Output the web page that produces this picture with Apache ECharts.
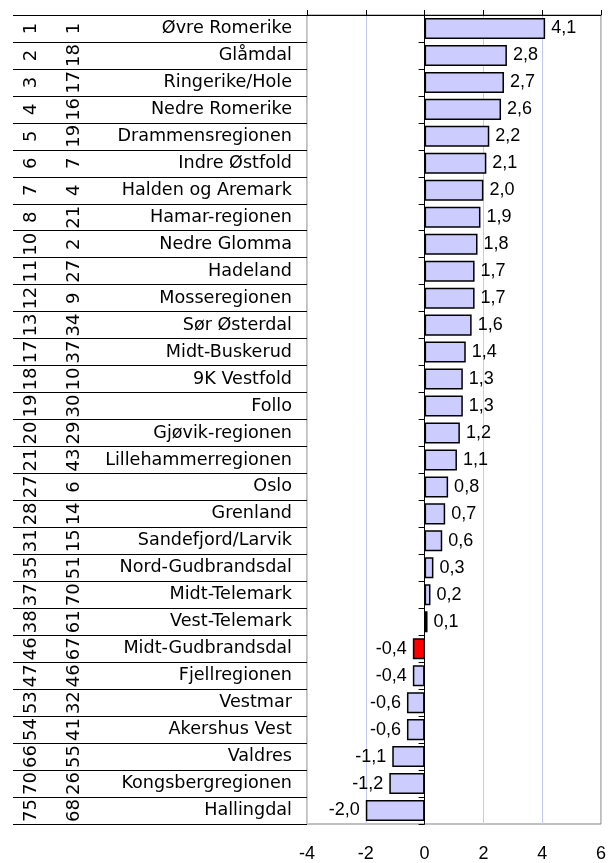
<!DOCTYPE html>
<html>
<head>
<meta charset="utf-8">
<script src="https://cdn.jsdelivr.net/npm/echarts@6/dist/echarts.min.js"></script>
<style>
html,body{margin:0;padding:0;background:#fff;}
#chart{width:609px;height:863px;}
</style>
</head>
<body>
<div id="chart"></div>
<script>
var regions = ["Øvre Romerike","Glåmdal","Ringerike/Hole","Nedre Romerike","Drammensregionen","Indre Østfold","Halden og Aremark","Hamar-regionen","Nedre Glomma","Hadeland","Mosseregionen","Sør Østerdal","Midt-Buskerud","9K Vestfold","Follo","Gjøvik-regionen","Lillehammerregionen","Oslo","Grenland","Sandefjord/Larvik","Nord-Gudbrandsdal","Midt-Telemark","Vest-Telemark","Midt-Gudbrandsdal","Fjellregionen","Vestmar","Akershus Vest","Valdres","Kongsbergregionen","Hallingdal"];
var rank1 = ["1","2","3","4","5","6","7","8","10","11","12","13","17","18","19","20","21","27","28","31","35","37","38","46","47","53","54","66","70","75"];
var rank2 = ["1","18","17","16","19","7","4","21","2","27","9","34","37","10","30","29","43","6","14","15","51","70","61","67","46","32","41","55","26","68"];
var values = [4.1,2.8,2.7,2.6,2.2,2.1,2.0,1.9,1.8,1.7,1.7,1.6,1.4,1.3,1.3,1.2,1.1,0.8,0.7,0.6,0.3,0.2,0.1,-0.4,-0.4,-0.6,-0.6,-1.1,-1.2,-2.0];
var highlighted = ["Midt-Gudbrandsdal"];
var xMin = -4, xMax = 6, xStep = 2;

var chart = echarts.init(document.getElementById('chart'), null, {renderer:'canvas'});
var nameFont = 'DejaVu Sans';
var numFont = 'Liberation Sans, Arial, sans-serif';

var barData = values.map(function(v, i){
  var hl = highlighted.indexOf(regions[i]) >= 0;
  return {
    value: v,
    itemStyle: {color: hl ? '#ff0000' : '#ccccff'},
    label: {position: v >= 0 ? 'right' : 'left'}
  };
});

var option = {
  animation: false,
  backgroundColor: '#ffffff',
  grid: {left: 307, right: 7, top: 15, bottom: 39, show: true, borderColor: '#808080', borderWidth: 1, backgroundColor: 'transparent'},
  xAxis: [
    {type: 'value', position: 'bottom', min: xMin, max: xMax, interval: xStep,
     axisLine: {show: false, onZero: false}, axisTick: {show: false},
     axisLabel: {color: '#000', fontFamily: numFont, fontSize: 18, margin: 21},
     splitLine: {show: true, lineStyle: {color: '#c8c8f8', width: 1}}},
    {type: 'value', position: 'top', min: xMin, max: xMax, interval: xStep,
     axisLine: {show: true, onZero: false, lineStyle: {color: '#000', width: 1}},
     axisTick: {show: true, inside: false, length: 5, lineStyle: {color: '#000'}},
     axisLabel: {show: false}, splitLine: {show: false}}
  ],
  yAxis: [
    {type: 'category', data: regions, inverse: true,
     axisLine: {show: true, onZero: true, onZeroAxisIndex: 0, lineStyle: {color: '#000', width: 1}},
     axisTick: {show: true, length: 6, lineStyle: {color: '#000'}},
     axisLabel: {show: false}, splitLine: {show: false}},
    {type: 'category', data: regions, inverse: true, position: 'left',
     axisLine: {show: false, onZero: false},
     axisTick: {show: true, length: 294, interval: 0, lineStyle: {color: '#000', width: 1}},
     axisLabel: {show: true, interval: 0, margin: 15, color: '#000', fontFamily: nameFont, fontSize: 17.6}},
    {type: 'category', data: rank2, inverse: true, position: 'left',
     axisLine: {show: false, onZero: false}, axisTick: {show: false},
     axisLabel: {show: true, interval: 0, rotate: 90, margin: 224, color: '#000', fontFamily: nameFont, fontSize: 18}},
    {type: 'category', data: rank1, inverse: true, position: 'left',
     axisLine: {show: false, onZero: false}, axisTick: {show: false},
     axisLabel: {show: true, interval: 0, rotate: 90, margin: 267, color: '#000', fontFamily: nameFont, fontSize: 18}}
  ],
  series: [{
    type: 'bar',
    xAxisIndex: 0, yAxisIndex: 0,
    data: barData,
    barCategoryGap: '22%',
    itemStyle: {borderColor: '#000', borderWidth: 1.5},
    label: {show: true, distance: 6, color: '#000', fontFamily: numFont, fontSize: 18,
      formatter: function(p){ return p.value.toFixed(1).replace('.', ','); }}
  }]
};
chart.setOption(option);
</script>
</body>
</html>
